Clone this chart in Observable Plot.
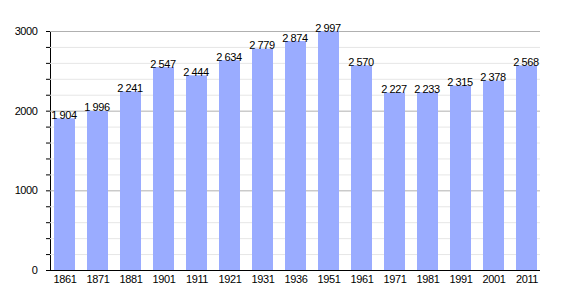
<!DOCTYPE html>
<html><head><meta charset="utf-8">
<script src="https://cdn.jsdelivr.net/npm/d3@7"></script>
<script src="https://cdn.jsdelivr.net/npm/@observablehq/plot@0.6"></script>
<style>body{margin:0;background:#fff;} svg{display:block;} svg text{letter-spacing:-0.4px;}</style>
</head><body><div id="chart"></div>
<script>
const years = ["1861","1871","1881","1901","1911","1921","1931","1936","1951","1961","1971","1981","1991","2001","2011"];
const population = [1904,1996,2241,2547,2444,2634,2779,2874,2997,2570,2227,2233,2315,2378,2568];
const yTicks = d3.range(0, 3001, 200);
const majorGrid = [1000, 2000, 3000];
const minorGrid = yTicks.filter(d => d % 1000 !== 0);

const data = years.map((y, i) => ({year: y, pop: population[i]}));
const fmt = d3.formatLocale({thousands: "\u00a0", grouping: [3], decimal: ",", currency: ["", ""]}).format(",d");

const chart = Plot.plot({
  width: 570, height: 300,
  marginLeft: 50, marginRight: 30, marginTop: 31, marginBottom: 30,
  style: {fontFamily: "'Liberation Sans', Arial, sans-serif", fontSize: "11px", color: "#000", background: "#fff"},
  x: {domain: years, paddingInner: 0.37, paddingOuter: 0, label: null, tickSize: 0, tickPadding: 5},
  y: {domain: [0, 3000], ticks: yTicks, tickFormat: d => d % 1000 === 0 ? String(d) : "", tickSize: 4, tickPadding: 9, label: null, line: true},
  marks: [
    Plot.ruleY(minorGrid, {stroke: "#e6e6e6"}),
    Plot.ruleY(majorGrid, {stroke: "#b0b0b0"}),
    Plot.barY(data, {x: "year", y: "pop", fill: "#9aacff"}),
    Plot.ruleY([0], {stroke: "#000"}),
    Plot.text(data, {x: "year", y: "pop", text: d => fmt(d.pop), lineAnchor: "bottom", dx: -1, fill: "#000", fontSize: 11})
  ]
});
document.getElementById("chart").append(chart);
</script>
</body></html>
